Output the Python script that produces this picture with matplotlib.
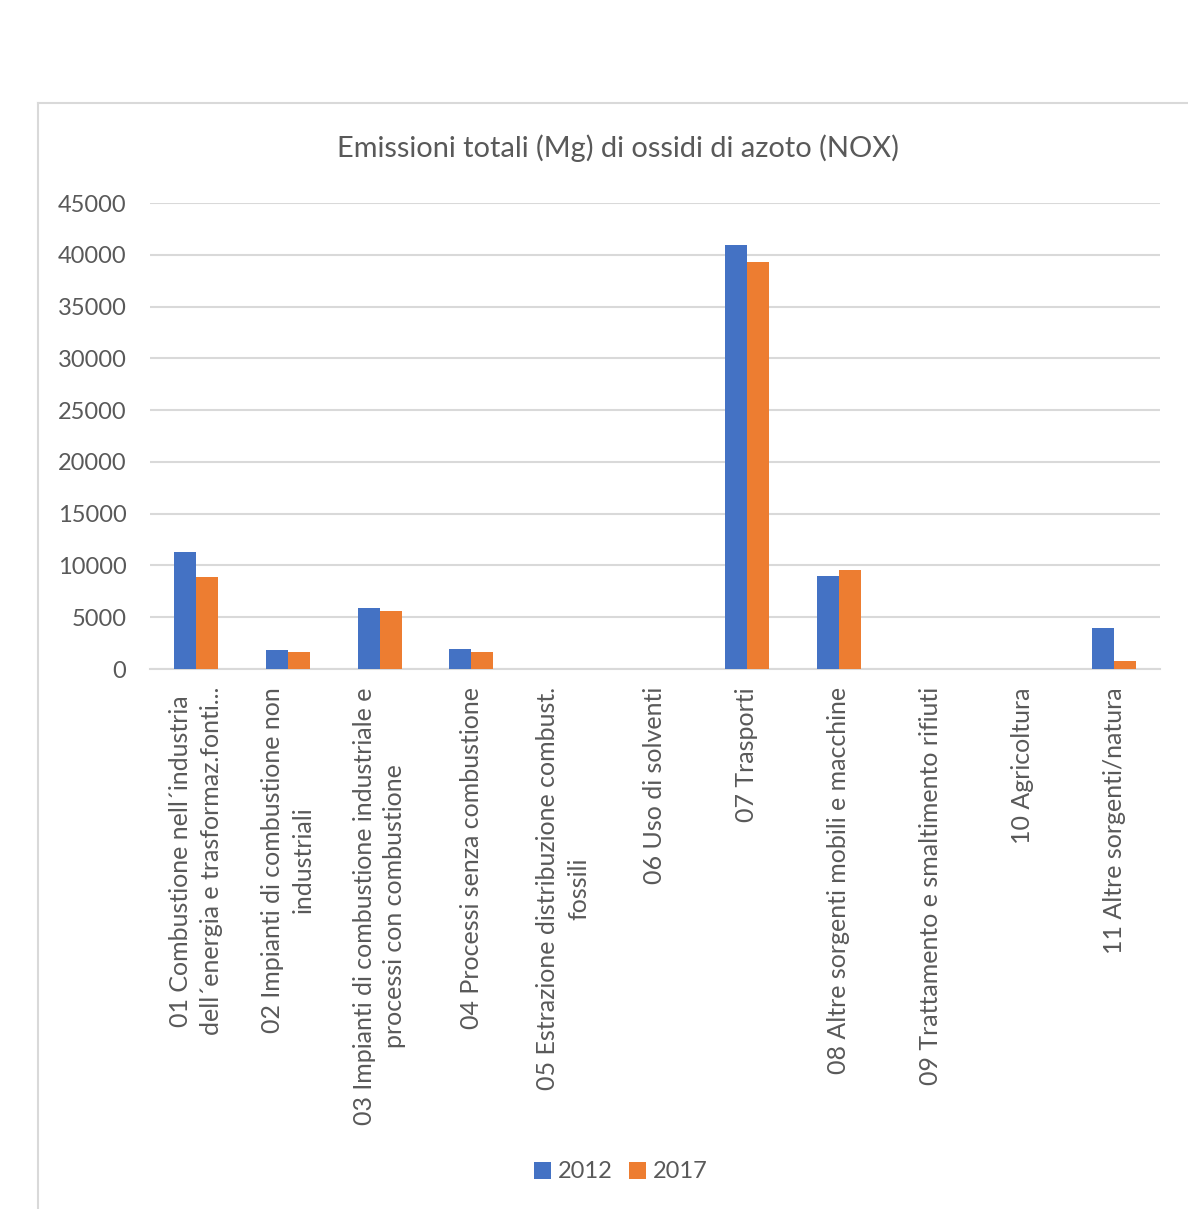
import numpy as np
import matplotlib
matplotlib.use("Agg")
import matplotlib.pyplot as plt
from matplotlib.lines import Line2D

plt.rcParams['font.family'] = ['Lato', 'DejaVu Sans']

categories = [
    "01 Combustione nell´industria\ndell´energia e trasformaz.fonti...",
    "02 Impianti di combustione non\nindustriali",
    "03 Impianti di combustione industriale e\nprocessi con combustione",
    "04 Processi senza combustione",
    "05 Estrazione distribuzione combust.\nfossili",
    "06 Uso di solventi",
    "07 Trasporti",
    "08 Altre sorgenti mobili e macchine",
    "09 Trattamento e smaltimento rifiuti",
    "10 Agricoltura",
    "11 Altre sorgenti/natura",
]
values_2012 = [11300, 1830, 5860, 1900, 0, 0, 40940, 9000, 0, 0, 3930]
values_2017 = [8850, 1610, 5630, 1640, 0, 0, 39270, 9560, 0, 0, 770]
yticks = [0, 5000, 10000, 15000, 20000, 25000, 30000, 35000, 40000, 45000]

W, H = 1188, 1209
fig = plt.figure(figsize=(W / 100, H / 100), dpi=100)
ax = fig.add_axes([150 / W, 1 - 669 / H, 1010 / W, 466 / H])

text_col = '#595959'
grid_col = '#d9d9d9'
x = np.arange(len(categories))
bw = 0.24
ax.bar(x - bw / 2, values_2012, bw, color='#4472C4', label='2012', zorder=3)
ax.bar(x + bw / 2, values_2017, bw, color='#ED7D31', label='2017', zorder=3)

ax.set_xlim(-0.5, len(categories) - 0.5)
ax.set_ylim(0, 45000)
ax.set_yticks(yticks)
ax.set_yticklabels([str(v) for v in yticks])
ax.set_xticks(x)
ax.set_xticklabels(categories, rotation=90, ha='center', va='top',
                   multialignment='center', linespacing=1.4, fontsize=18)
ax.tick_params(axis='y', length=0, pad=17, labelsize=17, labelcolor=text_col)
ax.tick_params(axis='x', length=0, pad=13, labelcolor=text_col)
ax.grid(axis='y', color=grid_col, linewidth=1.5, zorder=0)
for s in ['top', 'right', 'left']:
    ax.spines[s].set_visible(False)
ax.spines['bottom'].set_color(grid_col)
ax.spines['bottom'].set_linewidth(1.5)

fig.text(618 / W, 1 - 148 / H, "Emissioni totali (Mg) di ossidi di azoto (NOX)",
         ha='center', va='center', fontsize=20.9, color=text_col)

fig.legend(loc='center', bbox_to_anchor=(621 / W, 1 - 1172 / H), ncol=2,
           frameon=False, fontsize=17, labelcolor=text_col,
           handlelength=0.7, handleheight=0.7, handletextpad=0.3,
           columnspacing=0.7)

# chart area border
fig.add_artist(Line2D([38 / W, 38 / W], [0, 1 - 103 / H], color=grid_col, lw=1.5))
fig.add_artist(Line2D([38 / W, 1], [1 - 103 / H, 1 - 103 / H], color=grid_col, lw=1.5))

fig.savefig("out.png", dpi=100, facecolor='white')
